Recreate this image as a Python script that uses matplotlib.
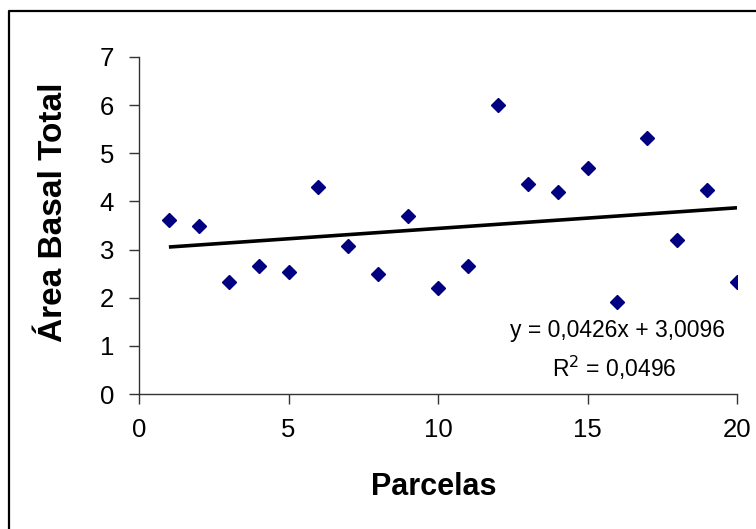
import matplotlib
matplotlib.use("Agg")
import matplotlib.pyplot as plt
import numpy as np
from matplotlib.lines import Line2D

plt.rcParams['font.family'] = ['Liberation Sans', 'DejaVu Sans']

parcelas = [1, 2, 3, 4, 5, 6, 7, 8, 9, 10, 11, 12, 13, 14, 15, 16, 17, 18, 19, 20]
area_basal = [3.61, 3.48, 2.32, 2.65, 2.53, 4.31, 3.07, 2.49, 3.69, 2.20,
              2.65, 6.01, 4.36, 4.19, 4.69, 1.91, 5.31, 3.19, 4.23, 2.32]
eq_text = "y = 0,0426x + 3,0096"
r2_text = "R$^2$ = 0,0496"

W, H = 756, 529
fig = plt.figure(figsize=(W/100, H/100), dpi=100)
ax = fig.add_axes([139/W, 1 - 394/H, (737-139)/W, (394-57)/H])

x = np.array(parcelas, dtype=float)
y = np.array(area_basal, dtype=float)
ax.plot(x, y, linestyle='none', marker='D', color='#000080', markersize=7.5, zorder=3)
m, b = np.polyfit(x, y, 1)
xl = np.array([x.min(), x.max()])
ax.plot(xl, m*xl + b, color='black', lw=2.6, solid_capstyle='butt', zorder=2)

ax.set_xlim(0, 20)
ax.set_ylim(0, 7)
ax.set_xticks([0, 5, 10, 15, 20])
ax.set_yticks(range(0, 8))
for s in ['top', 'right']:
    ax.spines[s].set_visible(False)
for s in ['left', 'bottom']:
    ax.spines[s].set_color('#333333')
    ax.spines[s].set_linewidth(1.0)
ax.tick_params(axis='both', direction='out', length=7, width=1, color='#333333',
               labelsize=18.5)
ax.tick_params(axis='y', pad=11)
ax.tick_params(axis='x', pad=10)
ax.set_xlabel('Parcelas', fontsize=22, fontweight='bold')
ax.set_ylabel('Área Basal Total', fontsize=24, fontweight='bold')
ax.xaxis.label.set_va('center')
ax.yaxis.label.set_va('center')
ax.xaxis.set_label_coords((434-139)/598, (394-487)/337)
ax.yaxis.set_label_coords((53-139)/598, (394-212)/337)

ax.text((725-139)/598, (394-331)/337, eq_text, transform=ax.transAxes,
        ha='right', va='center', fontsize=16.5)
ax.text((677-139)/598, (394-368)/337, r2_text, transform=ax.transAxes,
        ha='right', va='center', fontsize=16.5)

fig.lines.append(Line2D([9/W, 9/W, 1.0], [0.0, 1 - 11/H, 1 - 11/H], transform=fig.transFigure,
                        color='black', lw=1.6))

fig.savefig('out.png', dpi=100)
